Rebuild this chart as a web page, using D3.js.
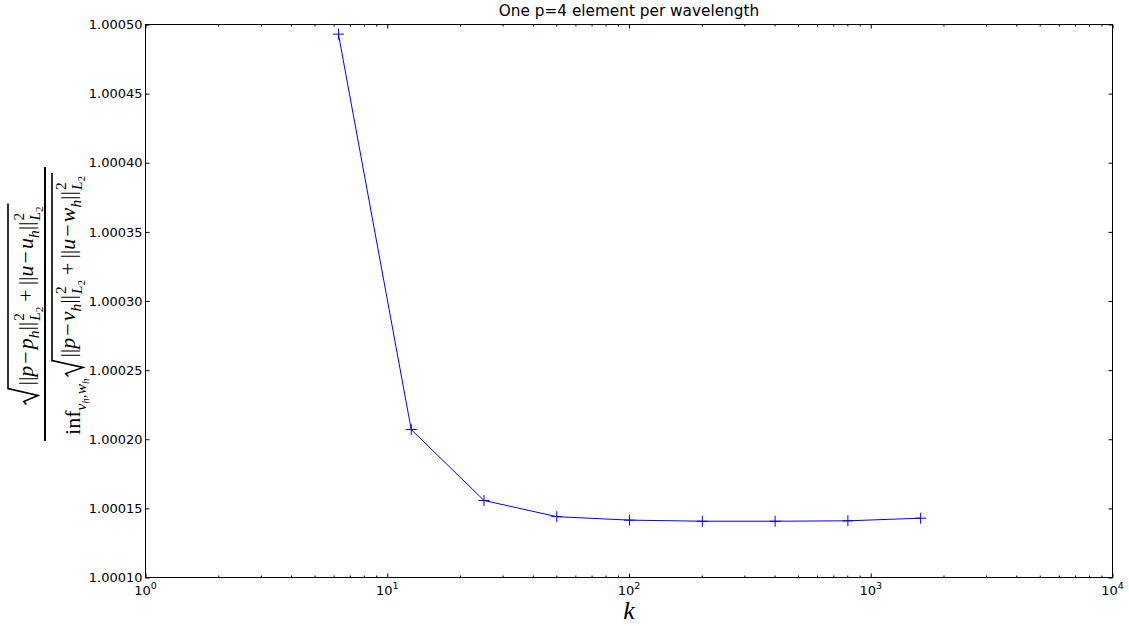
<!DOCTYPE html>
<html>
<head>
<meta charset="utf-8">
<script src="https://cdn.jsdelivr.net/npm/d3@7"></script>
<style>
  body { margin: 0; background: #fff; }
  text { fill: #000; }
</style>
</head>
<body>
<svg id="chart" width="1129" height="626"></svg>
<script>
// data
var kValues = [6.283, 12.566, 25.133, 50.265, 100.53, 201.06, 402.12, 804.25, 1608.5];
var ratioValues = [1.000493, 1.000207, 1.0001557, 1.000144, 1.0001415, 1.0001407, 1.0001407, 1.000141, 1.0001429];
var xTicks = [1, 10, 100, 1000, 10000];
var xTickExponents = ["0", "1", "2", "3", "4"];
var yTicks = [1.0001, 1.00015, 1.0002, 1.00025, 1.0003, 1.00035, 1.0004, 1.00045, 1.0005];
var titleText = "One p=4 element per wavelength";

var svg = d3.select("#chart");
// plot box (window.top is taken, so own names)
var plotL = 145.5, plotR = 1112.5, plotT = 24.5, plotB = 577.5;
var tickFont = "'DejaVu Sans', sans-serif";
var mathFont = "'Liberation Serif', 'DejaVu Serif', serif";

var x = d3.scaleLog().domain([1, 10000]).range([plotL, plotR]);
var y = d3.scaleLinear().domain([1.0001, 1.0005]).range([plotB, plotT]);

// minor ticks of the log axis
var minorTicks = [];
xTicks.slice(0, -1).forEach(function (d) {
    for (var m = 2; m < 10; m++) minorTicks.push(d * m);
});

function styleAxis(g) {
    g.select(".domain").remove();
    g.selectAll("line").attr("stroke", "#000");
    g.selectAll("text").attr("font-family", tickFont).attr("font-size", 13).attr("fill", "#000");
}

// bottom
svg.append("g").attr("transform", "translate(0," + plotB + ")")
    .call(d3.axisBottom(x).tickValues(xTicks).tickSize(-4).tickSizeOuter(0).tickFormat(""))
    .call(styleAxis);
svg.append("g").attr("transform", "translate(0," + plotB + ")")
    .call(d3.axisBottom(x).tickValues(minorTicks).tickSize(-2).tickSizeOuter(0).tickFormat(""))
    .call(styleAxis);
// top
svg.append("g").attr("transform", "translate(0," + plotT + ")")
    .call(d3.axisTop(x).tickValues(xTicks).tickSize(-4).tickSizeOuter(0).tickFormat(""))
    .call(styleAxis);
svg.append("g").attr("transform", "translate(0," + plotT + ")")
    .call(d3.axisTop(x).tickValues(minorTicks).tickSize(-2).tickSizeOuter(0).tickFormat(""))
    .call(styleAxis);
// left with labels
svg.append("g").attr("transform", "translate(" + plotL + ",0)")
    .call(d3.axisLeft(y).tickValues(yTicks).tickSize(-4).tickSizeOuter(0).tickPadding(3).tickFormat(d3.format(".5f")))
    .call(styleAxis);
// right
svg.append("g").attr("transform", "translate(" + plotR + ",0)")
    .call(d3.axisRight(y).tickValues(yTicks).tickSize(-4).tickSizeOuter(0).tickFormat(""))
    .call(styleAxis);

// x tick labels 10^n
var xl = svg.append("g");
xTicks.forEach(function (d, i) {
    var t = xl.append("text")
        .attr("x", x(d)).attr("y", 595)
        .attr("text-anchor", "middle")
        .attr("font-family", tickFont).attr("font-size", 13);
    t.append("tspan").text("10");
    t.append("tspan").attr("dy", -6).attr("font-size", 9.5).text(xTickExponents[i]);
});

// frame
svg.append("rect")
    .attr("x", plotL).attr("y", plotT)
    .attr("width", plotR - plotL).attr("height", plotB - plotT)
    .attr("fill", "none").attr("stroke", "#000").attr("stroke-width", 1);

// the series
var line = d3.line()
    .x(function (d, i) { return x(kValues[i]); })
    .y(function (d) { return y(d); });
svg.append("path")
    .datum(ratioValues)
    .attr("d", line)
    .attr("fill", "none").attr("stroke", "#0000ff").attr("stroke-width", 1);

svg.selectAll("path.marker")
    .data(ratioValues)
    .enter()
    .append("path")
    .attr("class", "marker")
    .attr("d", function (d, i) {
        var cx = x(kValues[i]), cy = y(d);
        return "M" + (cx - 5.5) + "," + cy + "H" + (cx + 5.5) + "M" + cx + "," + (cy - 5.5) + "V" + (cy + 5.5);
    })
    .attr("fill", "none").attr("stroke", "#0000ff").attr("stroke-width", 1);

// title
svg.append("text")
    .attr("x", (plotL + plotR) / 2).attr("y", 16)
    .attr("text-anchor", "middle")
    .attr("font-family", tickFont).attr("font-size", 15.3)
    .text(titleText);

// x label
svg.append("text")
    .attr("x", (plotL + plotR) / 2).attr("y", 619)
    .attr("text-anchor", "middle")
    .attr("font-family", mathFont).attr("font-style", "italic").attr("font-size", 26)
    .text("k");

// y label: a fraction of two square roots, drawn rotated
var size = 22;
function put(g, str, px, py, sz, italic) {
    var t = g.append("text").attr("x", px).attr("y", py)
        .attr("font-family", mathFont).attr("font-size", sz)
        .attr("font-style", italic ? "italic" : "normal")
        .text(str);
    return t.node().getComputedTextLength();
}
// tokens: [kind, text, italic]
function row(g, px, base, tokens) {
    tokens.forEach(function (tk) {
        var kind = tk[0];
        if (kind == "t") px += put(g, tk[1], px, base, size, tk[2]);
        else if (kind == "sp") px += tk[1];
        else if (kind == "sub") px += put(g, tk[1], px, base + 0.28 * size, size * 0.7, tk[2]);
        else if (kind == "subsub") px += put(g, tk[1], px, base + 0.42 * size, size * 0.5, tk[2]);
        else if (kind == "norm") {
            var w1 = put(g, "2", px + 1, base - 0.42 * size, size * 0.7, false);
            var w2 = put(g, "L", px + 1, base + 0.32 * size, size * 0.7, true);
            w2 += put(g, "2", px + 1 + w2, base + 0.45 * size, size * 0.5, false);
            px += Math.max(w1, w2) + 2;
        }
    });
    return px;
}
function sqrtSign(g, x0, x1, base, topY, depth) {
    g.append("path")
        .attr("d", "M" + x0 + "," + (base - 0.3 * size) +
            "L" + (x0 + 3) + "," + (base - 0.42 * size) +
            "L" + (x0 + 9) + "," + (base + depth) +
            "L" + (x0 + 16) + "," + topY +
            "H" + x1)
        .attr("fill", "none").attr("stroke", "#000").attr("stroke-width", 1.6);
}
function normsRow(p2, u2) {
    return [["t", "||"], ["t", "p", 1], ["sp", 2], ["t", "\u2212"], ["sp", 2], ["t", p2, 1], ["sub", "h", 1],
        ["t", "||"], ["norm"], ["sp", 4], ["t", "+"], ["sp", 4],
        ["t", "||"], ["t", "u", 1], ["sp", 2], ["t", "\u2212"], ["sp", 2], ["t", u2, 1], ["sub", "h", 1], ["t", "||"], ["norm"]];
}

var yl = svg.append("g").attr("transform", "translate(0,304) rotate(-90)");

// numerator
var num = yl.append("g");
var numEnd = row(num, 19, 33, normsRow("p", "u"));
sqrtSign(num, 0, numEnd + 2, 33, 8, 5);
var numW = numEnd + 2;
num.attr("transform", "translate(" + (-numW / 2) + ",0)");

// denominator
var den = yl.append("g");
var dx = put(den, "inf", 0, 80, size, false);
dx = row(den, dx, 80, [["sub", "v", 1], ["subsub", "h", 1], ["sub", ",", 0], ["sub", "w", 1], ["subsub", "h", 1]]);
dx += 2;
var denEnd = row(den, dx + 19, 75, normsRow("v", "w"));
sqrtSign(den, dx, denEnd + 2, 75, 52, 8);
var denW = denEnd + 2;
den.attr("transform", "translate(" + (-denW / 2) + ",0)");

// fraction bar
var barW = Math.max(numW, denW) + 12;
yl.append("line")
    .attr("x1", -barW / 2).attr("x2", barW / 2)
    .attr("y1", 45).attr("y2", 45)
    .attr("stroke", "#000").attr("stroke-width", 2);
</script>
</body>
</html>
